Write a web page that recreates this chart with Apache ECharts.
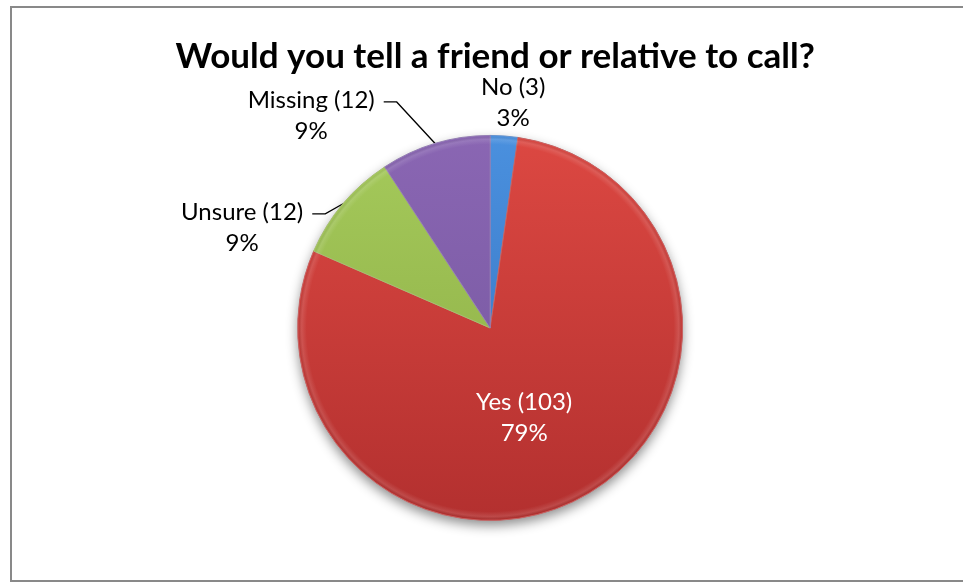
<!DOCTYPE html>
<html>
<head>
<meta charset="utf-8">
<title>Would you tell a friend or relative to call?</title>
<script src="https://cdn.jsdelivr.net/npm/echarts@6/dist/echarts.min.js"></script>
<style>
  html, body { margin: 0; padding: 0; background: #ffffff; }
  #chart { width: 963px; height: 583px; }
</style>
</head>
<body>
<div id="chart"></div>
<script>
// Survey answers
const categories = ['No', 'Yes', 'Unsure', 'Missing'];
const counts = [3, 103, 12, 12];
const titleText = 'Would you tell a friend or relative to call?';

// Slice colours: [top, bottom] of the vertical shading
const sliceColors = [
  ['#4a90de', '#3470bd'],
  ['#dc4842', '#b3302f'],
  ['#a5ca5b', '#8aaa43'],
  ['#8a66b3', '#72559c']
];

const chart = echarts.init(document.getElementById('chart'), null, { renderer: 'canvas' });
const W = chart.getWidth();
const H = chart.getHeight();

// Pie geometry
const CX = W * 0.509;
const CY = H * 0.5625;
const R = 192.5;

// Label placement around the pie, as offsets from its centre
const labelOffsets = [
  { dx: 23, dy: -225 },
  { dx: 34, dy: 90 },
  { dx: -248, dy: -100 },
  { dx: -179, dy: -212 }
];

const total = counts.reduce((a, b) => a + b, 0);

function edgePoint(index) {
  let cum = 0;
  for (let k = 0; k < index; k++) cum += counts[k];
  const theta = (cum + counts[index] / 2) / total * Math.PI * 2;
  return [CX + R * Math.sin(theta), CY - R * Math.cos(theta)];
}

function shade(pair) {
  return new echarts.graphic.LinearGradient(0, CY - R, 0, CY + R, [
    { offset: 0, color: pair[0] },
    { offset: 1, color: pair[1] }
  ], true);
}

const pieData = categories.map((name, i) => {
  const item = {
    name: name,
    value: counts[i],
    itemStyle: {
      color: shade(sliceColors[i]),
      borderColor: echarts.color.lift(sliceColors[i][1], 0.25),
      borderWidth: 1
    }
  };
  if (name === 'Yes') {
    item.label = { position: 'inside', color: '#ffffff' };
  }
  if (name === 'No') {
    item.labelLine = { show: false };
  }
  return item;
});

const option = {
  backgroundColor: '#ffffff',
  animation: false,
  title: {
    text: titleText,
    left: W * 0.509,
    top: 34,
    textAlign: 'center',
    textStyle: {
      fontFamily: 'Lato',
      fontWeight: 'bold',
      fontSize: 35,
      color: '#000000'
    }
  },
  graphic: [
    {
      type: 'rect',
      silent: true,
      shape: { x: 11, y: 7, width: 1000, height: 574 },
      style: { fill: 'none', stroke: '#898989', lineWidth: 2 },
      z: 0
    }
  ],
  series: [
    {
      // soft drop shadow beneath the whole pie
      type: 'pie',
      silent: true,
      center: [CX, CY],
      radius: [0, R],
      z: 1,
      label: { show: false },
      labelLine: { show: false },
      data: [{ value: total, itemStyle: { color: '#b0b0b0', shadowBlur: 12, shadowOffsetY: 5, shadowColor: 'rgba(0,0,0,0.45)' } }]
    },
    {
      type: 'pie',
      center: [CX, CY],
      radius: [0, R],
      startAngle: 90,
      clockwise: true,
      z: 2,
      percentPrecision: 0,
      avoidLabelOverlap: false,
      data: pieData,
      label: {
        show: true,
        position: 'outside',
        formatter: '{b} ({c})\n{d}%',
        fontFamily: 'Lato',
        fontSize: 24,
        lineHeight: 31,
        color: '#000000',
        align: 'center'
      },
      labelLine: {
        show: true,
        lineStyle: { color: '#000000', width: 1.3 }
      },
      labelLayout: function (params) {
        const i = params.dataIndex;
        const off = labelOffsets[i];
        const x = CX + off.dx;
        const y = CY + off.dy;
        const lw = params.labelRect.width;
        const lh = params.labelRect.height;
        const out = { x: x, y: y, align: 'center', verticalAlign: 'middle' };
        if (categories[i] === 'Missing' || categories[i] === 'Unsure') {
          const endX = x + lw / 2 + 9;
          const endY = y - lh / 2 + 17;
          out.labelLinePoints = [edgePoint(i), [endX + 13, endY], [endX, endY]];
        }
        return out;
      }
    },
    {
      // bevel highlight along the rim
      type: 'pie',
      silent: true,
      center: [CX, CY],
      radius: [R - 9, R - 1.5],
      startAngle: 90,
      clockwise: true,
      z: 3,
      label: { show: false },
      labelLine: { show: false },
      data: counts.map((v) => ({
        value: v,
        itemStyle: {
          color: new echarts.graphic.RadialGradient(CX, CY, R, [
            { offset: (R - 9) / R, color: 'rgba(255,255,255,0)' },
            { offset: (R - 4) / R, color: 'rgba(255,255,255,0.12)' },
            { offset: 1, color: 'rgba(0,0,0,0.12)' }
          ], true)
        }
      }))
    }
  ]
};

chart.setOption(option);
</script>
</body>
</html>
